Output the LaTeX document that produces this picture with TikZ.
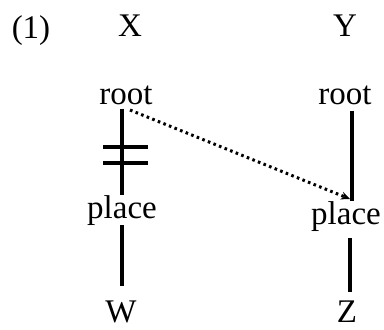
\documentclass[tikz,border=0pt]{standalone}
\usepackage{fontspec}
\setmainfont{Liberation Serif}
\usetikzlibrary{arrows.meta,calc}
\begin{document}
\begin{tikzpicture}[x=1pt,y=-1pt,
  lbl/.style={inner sep=0pt,anchor=base,font=\fontsize{33}{36}\selectfont},
  edge/.style={line width=3.2pt},
  dotedge/.style={line width=3pt,dash pattern=on 2.6pt off 3.4pt,-{Stealth[length=9pt,width=8pt]}}]
\useasboundingbox (0,0) rectangle (384,330);
\node[lbl] (num) at (31,38) {(1)};
\node[lbl] (X) at (130,36) {X};
\node[lbl] (Y) at (345,36) {Y};
\node[lbl] (rootL) at (126,104) {root};
\node[lbl] (rootR) at (345,104) {root};
\node[lbl] (placeL) at (122,218) {place};
\node[lbl] (placeR) at (346,224) {place};
\node[lbl] (W) at (121,322) {W};
\node[lbl] (Z) at (347,322) {Z};
\coordinate (lx) at (122,0);
\coordinate (rx) at (352,0);
\coordinate (rx2) at (350,0);
% left tree
\draw[edge,shorten <=4pt] (rootL.south -| lx) -- (placeL.north -| lx);
\draw[edge,shorten >=14pt] (placeL.south -| lx) -- (W.north -| lx);
\coordinate (bar1) at (125.5,147);
\coordinate (bar2) at (125.5,163);
\draw[edge] ([xshift=-22.5pt]bar1) -- ([xshift=22.5pt]bar1);
\draw[edge] ([xshift=-22.5pt]bar2) -- ([xshift=22.5pt]bar2);
% right tree
\draw[edge,shorten <=6pt] (rootR.south -| rx) -- (placeR.north -| rx);
\draw[edge,shorten <=7pt,shorten >=8pt] (placeR.south -| rx2) -- (Z.north -| rx2);
% dotted link
\coordinate (dstart) at (130,110);
\coordinate (dend) at (350,199);
\draw[dotedge] (dstart) -- (dend);
\end{tikzpicture}
\end{document}
